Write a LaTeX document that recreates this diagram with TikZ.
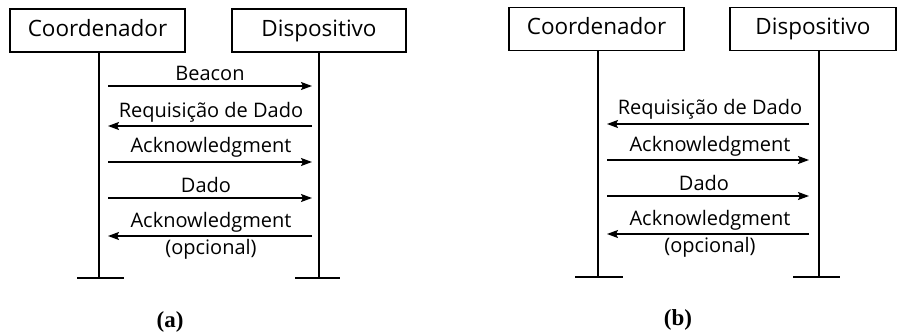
\documentclass[tikz,border=0pt]{standalone}
\usepackage{fontspec}
\setmainfont{Open Sans}
\newfontfamily\capfont{Liberation Serif}
\usetikzlibrary{arrows.meta}
\tikzset{
  actor/.style={draw, line width=1.6pt, minimum height=43pt, inner sep=0pt, text height=16pt, text depth=4pt, font=\fontsize{22.5}{26}\selectfont},
  life/.style={line width=1.8pt},
  msg/.style={line width=1.3pt, -{Stealth[length=11pt,width=8pt,inset=2pt]}},
  lbl/.style={font=\fontsize{20}{24}\selectfont, inner sep=0pt},
  captionlbl/.style={font=\capfont\bfseries\fontsize{23}{26}\selectfont, inner sep=0pt}
}
\begin{document}
\begin{tikzpicture}[x=1pt,y=-1pt]
\useasboundingbox (0,0) rectangle (897,334);
% ---------- (a) ----------
\node[actor, minimum width=175pt] (ca) at (97.5,30.5) {Coordenador};
\node[actor, minimum width=174pt] (da) at (319,30.5) {Dispositivo};
\coordinate (cab) at (99,278);
\coordinate (dab) at (319,278);
\draw[life] (ca.south -| cab) -- (cab);
\draw[life] (da.south -| dab) -- (dab);
\coordinate (cal) at (77,278); \coordinate (car) at (124,278);
\coordinate (dal) at (295,278); \coordinate (dar) at (340,278);
\draw[life] (cal) -- (car);
\draw[life] (dal) -- (dar);
\coordinate (a1l) at (108,86);  \coordinate (a1r) at (312,86);
\coordinate (a2l) at (108,126); \coordinate (a2r) at (312,126);
\coordinate (a3l) at (108,162); \coordinate (a3r) at (312,162);
\coordinate (a4l) at (108,198); \coordinate (a4r) at (312,198);
\coordinate (a5l) at (108,236); \coordinate (a5r) at (312,236);
\draw[msg] (a1l) -- (a1r);
\draw[msg] (a2r) -- (a2l);
\draw[msg] (a3l) -- (a3r);
\draw[msg] (a4l) -- (a4r);
\draw[msg] (a5r) -- (a5l);
\node[lbl] (ta1) at (210,73) {Beacon};
\node[lbl] (ta2) at (211,112) {Requisição de Dado};
\node[lbl] (ta3) at (211,147) {Acknowledgment};
\node[lbl] (ta4) at (206,185) {Dado};
\node[lbl] (ta5) at (211,222) {Acknowledgment};
\node[lbl] (ta6) at (211,249) {(opcional)};
\node[captionlbl] (capa) at (170,322) {(a)};
% ---------- (b) ----------
\node[actor, minimum width=175pt] (cb) at (596.5,29) {Coordenador};
\node[actor, minimum width=166pt] (db) at (813,29) {Dispositivo};
\coordinate (cbb) at (598,277);
\coordinate (dbb) at (819,277);
\draw[life] (cb.south -| cbb) -- (cbb);
\draw[life] (db.south -| dbb) -- (dbb);
\coordinate (cbl) at (575,277); \coordinate (cbr) at (623,277);
\coordinate (dbl) at (793,277); \coordinate (dbr) at (840,277);
\draw[life] (cbl) -- (cbr);
\draw[life] (dbl) -- (dbr);
\coordinate (b2l) at (607,124); \coordinate (b2r) at (809,124);
\coordinate (b3l) at (607,160); \coordinate (b3r) at (809,160);
\coordinate (b4l) at (607,196); \coordinate (b4r) at (809,196);
\coordinate (b5l) at (607,234); \coordinate (b5r) at (809,234);
\draw[msg] (b2r) -- (b2l);
\draw[msg] (b3l) -- (b3r);
\draw[msg] (b4l) -- (b4r);
\draw[msg] (b5r) -- (b5l);
\node[lbl] (tb2) at (710,109) {Requisição de Dado};
\node[lbl] (tb3) at (710,146) {Acknowledgment};
\node[lbl] (tb4) at (704,183) {Dado};
\node[lbl] (tb5) at (710,220) {Acknowledgment};
\node[lbl] (tb6) at (710,247) {(opcional)};
\node[captionlbl] (capb) at (678,320) {(b)};
\end{tikzpicture}
\end{document}
